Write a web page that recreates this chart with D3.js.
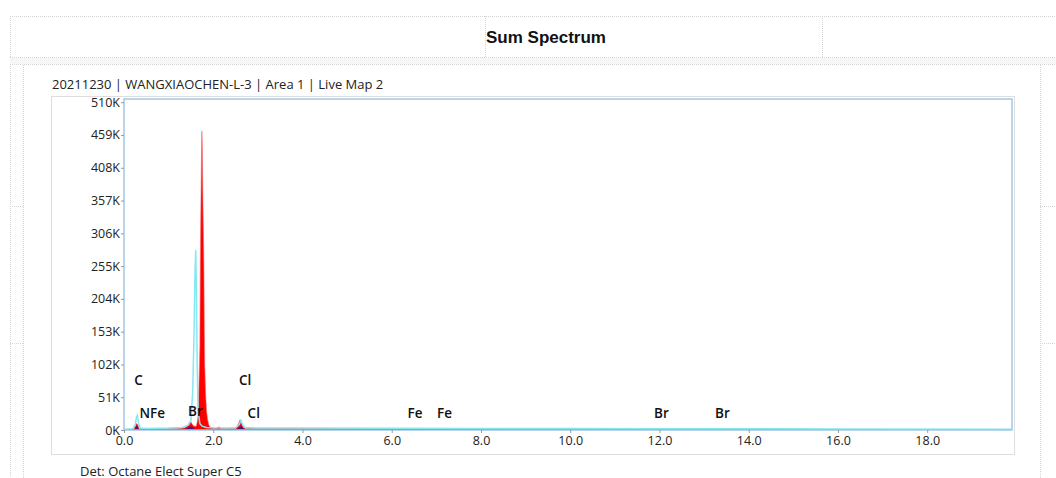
<!DOCTYPE html>
<html>
<head>
<meta charset="utf-8">
<script src="https://cdn.jsdelivr.net/npm/d3@7"></script>
<style>
    body { margin: 0; background: #fff; }
    text { font-family: "Open Sans", "Noto Sans", sans-serif; }
</style>
</head>
<body>
<div id="chart"></div>
<script>

// spectrum (keV, counts)
const specEnergy = [0.00, 0.15, 0.22, 0.25, 0.28, 0.31, 0.34, 0.40, 0.60, 0.90, 1.20, 1.35, 1.42, 1.46, 1.49, 1.52, 1.55, 1.58,
    1.62, 1.64, 1.66, 1.68, 1.70, 1.71, 1.72, 1.735, 1.745, 1.755, 1.77, 1.79, 1.80, 1.81, 1.83, 1.85, 1.87, 1.90, 1.94,
    2.05, 2.10, 2.13, 2.17, 2.30, 2.50, 2.56, 2.60, 2.63, 2.67, 2.72, 2.82, 2.95, 3.30, 3.70, 4.50, 6.00, 6.40, 6.80, 8.00,
    10.0, 12.0, 14.0, 16.0, 18.0, 19.9];
const specCounts = [500, 1000, 1500, 5000, 10000, 8000, 2000, 1500, 1500, 1800, 2200, 3000, 6000, 11000, 14000, 10000, 7000, 6000,
    6000, 12000, 22000, 70000, 130000, 260000, 330000, 420000, 465000, 440000, 350000, 260000, 160000, 100000, 55000, 30000, 18000, 8000, 3000,
    2500, 3500, 5000, 2500, 2500, 3000, 9000, 16000, 12000, 4000, 3000, 3500, 2500, 2500, 2200, 2000, 1800, 2000, 1600, 1400,
    1200, 1000, 800, 600, 500, 400];

// dark overlap region under the small peaks
const overlapEnergy = [0.00, 0.24, 0.27, 0.30, 0.33, 1.00, 1.40, 1.47, 1.52, 1.58, 1.65, 2.00, 2.55, 2.60, 2.64, 2.70, 3.00, 19.9];
const overlapCounts = [500, 1000, 6000, 7000, 1000, 1000, 2000, 6000, 5000, 2000, 1500, 1000, 1500, 6000, 6000, 1000, 1000, 500];

// cyan comparison trace
const refEnergy = [0.00, 0.20, 0.25, 0.28, 0.30, 0.32, 0.36, 0.50, 1.00, 1.30, 1.45, 1.50, 1.54, 1.57, 1.59, 1.607, 1.62, 1.64,
    1.66, 1.70, 1.75, 1.85, 2.00, 2.50, 2.58, 2.62, 2.66, 2.72, 3.50, 4.00, 6.00, 8.00, 10.0, 12.0, 16.0, 19.9];
const refCounts = [1000, 2000, 8000, 20000, 23000, 12000, 3000, 2500, 3000, 4000, 8000, 15000, 60000, 150000, 240000, 280000, 230000, 100000,
    30000, 10000, 6000, 4000, 3500, 3000, 8000, 15000, 8000, 3000, 3200, 3000, 2800, 2500, 2200, 2000, 1600, 1300];

// peak labels: element, energy (keV), label height (counts)
const labelElement = ["C", "N", "Fe", "Br", "Cl", "Cl", "Fe", "Fe", "Br", "Br"];
const labelEnergy = [0.277, 0.392, 0.63, 1.48, 2.622, 2.815, 6.40, 7.058, 11.924, 13.29];
const labelCounts = [75000, 24000, 24000, 28000, 75000, 25000, 24000, 24000, 24000, 24000];

const yTickValues = [0, 51000, 102000, 153000, 204000, 255000, 306000, 357000, 408000, 459000, 510000];
const yTickLabels = ["0K", "51K", "102K", "153K", "204K", "255K", "306K", "357K", "408K", "459K", "510K"];
const xTickValues = [0, 2, 4, 6, 8, 10, 12, 14, 16, 18];

const titleText = "Sum Spectrum";
const headerText = "20211230 | WANGXIAOCHEN-L-3 | Area 1 | Live Map 2";
const footerText = "Det: Octane Elect Super C5";

const width = 1056, height = 478;
const plot = {left: 124, right: 1012, top: 99, bottom: 430};

const svg = d3.select("#chart")
    .append("svg")
        .attr("width", width)
        .attr("height", height);

// page frame (dotted cell borders)
const grid = svg.append("g")
    .attr("stroke", "#d4d4d4")
    .attr("stroke-dasharray", "1,1")
    .attr("fill", "none");
[[10, 16.5, 1056, 16.5], [10, 57.5, 1056, 57.5], [10, 64.5, 1056, 64.5],
 [10.5, 16, 10.5, 478], [485.5, 16, 485.5, 57], [822.5, 16, 822.5, 57],
 [23.5, 65, 23.5, 478], [1040.5, 65, 1040.5, 478],
 [10, 206.5, 23, 206.5], [10, 343.5, 23, 343.5], [1040, 206.5, 1056, 206.5], [1040, 343.5, 1056, 343.5]]
    .forEach(l => grid.append("line")
        .attr("x1", l[0]).attr("y1", l[1]).attr("x2", l[2]).attr("y2", l[3]));

svg.append("rect")
    .attr("x", 10).attr("y", 58).attr("width", 1046).attr("height", 6)
    .attr("fill", "#f6f6f6");

svg.append("text")
    .attr("x", 546)
    .attr("y", 43)
    .attr("text-anchor", "middle")
    .style("font-family", "'Liberation Sans', Arial, sans-serif")
    .style("font-size", "17px")
    .style("font-weight", "bold")
    .attr("fill", "#111")
    .text(titleText);

// chart panel
svg.append("rect")
    .attr("x", 51.5).attr("y", 96.5)
    .attr("width", 963).attr("height", 358)
    .attr("fill", "#fff")
    .attr("stroke", "#dedede");

svg.append("text")
    .attr("x", 52)
    .attr("y", 89)
    .style("font-size", "13px")
    .attr("fill", "#222")
    .text(headerText);

svg.append("text")
    .attr("x", 80)
    .attr("y", 476)
    .style("font-size", "13px")
    .attr("fill", "#222")
    .text(footerText);

const x = d3.scaleLinear()
    .domain([0, 19.9])
    .range([plot.left, plot.right]);

const y = d3.scaleLinear()
    .domain([0, 515000])
    .range([plot.bottom, plot.top]);

svg.append("defs")
    .call(d => d.append("clipPath").attr("id", "panelClip")
        .append("rect").attr("x", -200).attr("y", 98).attr("width", 400).attr("height", 380))
    .call(d => d.append("clipPath").attr("id", "plotClip")
        .append("rect").attr("x", plot.left).attr("y", plot.top)
            .attr("width", plot.right - plot.left).attr("height", plot.bottom - plot.top))
    .call(d => d.append("linearGradient").attr("id", "baseGrad")
        .call(g => g.append("stop").attr("offset", "0%").attr("stop-color", "#3d8fd6"))
        .call(g => g.append("stop").attr("offset", "30%").attr("stop-color", "#6cc2ea"))
        .call(g => g.append("stop").attr("offset", "100%").attr("stop-color", "#b4e6f5")));

const specData = specEnergy.map((e, i) => ({e: e, c: specCounts[i]}));
const overlapData = overlapEnergy.map((e, i) => ({e: e, c: overlapCounts[i]}));
const refData = refEnergy.map((e, i) => ({e: e, c: refCounts[i]}));

const area = d3.area()
    .x(d => x(d.e))
    .y0(y(0))
    .y1(d => y(d.c));

const line = d3.line()
    .x(d => x(d.e))
    .y(d => y(d.c));

const traces = svg.append("g").attr("clip-path", "url(#plotClip)");

traces.append("path")
    .datum(specData)
    .attr("fill", "#ff0000")
    .attr("stroke", "#f26d6d")
    .attr("stroke-width", 0.6)
    .attr("d", area);

traces.append("path")
    .datum(overlapData)
    .attr("fill", "#4a167e")
    .attr("d", area);

traces.append("path")
    .datum(refData)
    .attr("fill", "none")
    .attr("stroke", "#86e6f2")
    .attr("stroke-width", 1.5)
    .attr("d", line);

// plot border
svg.append("rect")
    .attr("x", plot.left).attr("y", plot.top)
    .attr("width", plot.right - plot.left).attr("height", plot.bottom - plot.top)
    .attr("fill", "none")
    .attr("stroke", "#a3c8e4")
    .attr("stroke-width", 1.5);

svg.append("line")
    .attr("x1", plot.left).attr("x2", plot.right)
    .attr("y1", plot.bottom - 1).attr("y2", plot.bottom - 1)
    .attr("stroke", "url(#baseGrad)")
    .attr("stroke-width", 2.5);

// axes
svg.append("g")
    .attr("clip-path", "url(#panelClip)")
    .attr("transform", `translate(${plot.left},0)`)
    .call(d3.axisLeft(y)
        .tickValues(yTickValues)
        .tickFormat((_, i) => yTickLabels[i])
        .tickSize(3)
        .tickPadding(1))
    .call(g => g.select(".domain").remove())
    .call(g => g.selectAll("line").attr("stroke", "#999"))
    .call(g => g.selectAll("text")
        .attr("fill", "#222")
        .style("font-family", "'Open Sans', sans-serif")
        .style("font-size", "12.5px"));

svg.append("g")
    .attr("transform", `translate(0,${plot.bottom})`)
    .call(d3.axisBottom(x)
        .tickValues(xTickValues)
        .tickFormat(d3.format(".1f"))
        .tickSize(3)
        .tickPadding(3))
    .call(g => g.select(".domain").remove())
    .call(g => g.selectAll("line").attr("stroke", "#999"))
    .call(g => g.selectAll("text")
        .attr("fill", "#222")
        .style("font-family", "'Open Sans', sans-serif")
        .style("font-size", "12.5px"));

// element labels
svg.append("g")
    .selectAll("text")
    .data(labelElement)
    .join("text")
        .attr("x", (d, i) => x(labelEnergy[i]) - 2)
        .attr("y", (d, i) => y(labelCounts[i]))
        .attr("dominant-baseline", "middle")
        .style("font-size", "13.5px")
        .style("font-weight", "600")
        .attr("fill", "#111")
        .text(d => d);

</script>
</body>
</html>
